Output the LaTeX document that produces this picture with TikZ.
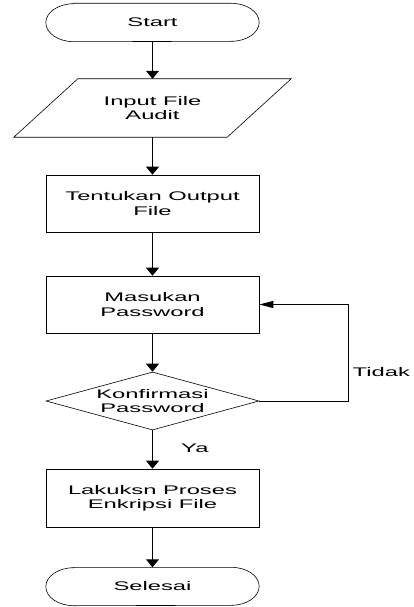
\documentclass[tikz,border=0pt]{standalone}
\usepackage{fontspec}
\setmainfont[FakeStretch=1.9]{Liberation Sans}
\usetikzlibrary{shapes.geometric,arrows.meta}

\tikzset{
	box/.style={inner sep=0pt, align=center, minimum width=213pt,
		font=\fontsize{12.5}{14.3}\selectfont},
	process/.style={box, draw, line width=0.6pt, minimum height=57pt},
	decision/.style={box, diamond, draw, line width=0.6pt, aspect=3.67, minimum height=58pt},
	outline/.style={draw, line width=0.6pt},
	flow/.style={line width=0.9pt, -{Triangle[length=8pt,width=13pt]}},
	flowside/.style={line width=0.9pt, -{Triangle[length=14pt,width=7pt]}},
	answer/.style={anchor=west, inner sep=0pt, font=\fontsize{12.5}{14.3}\selectfont}
}

\newcommand{\terminalshape}[1]{
	\draw[outline] ([xshift=28pt]#1.north west) -- ([xshift=-28pt]#1.north east)
		arc[start angle=90, end angle=-90, x radius=28pt, y radius=19pt]
		-- ([xshift=28pt]#1.south west)
		arc[start angle=270, end angle=90, x radius=28pt, y radius=19pt] -- cycle;
}
\newcommand{\inputshape}[1]{
	\draw[outline] ([xshift=32pt]#1.north west) -- ([xshift=32pt]#1.north east)
		-- ([xshift=-32pt]#1.south east) -- ([xshift=-32pt]#1.south west) -- cycle;
}

\begin{document}
\begin{tikzpicture}[x=1pt,y=1pt]
	\useasboundingbox (0,0) rectangle (413,-607);
	\pgfmathsetmacro{\xMid}{152.5};
	\node[box, minimum height=38pt] (start) at (\xMid,-22.5) {Start};
	\node[box, minimum height=58pt] (input) at (\xMid,-108) {Input File\\Audit};
	\node[process] (tentukan) at (\xMid,-203.5) {Tentukan Output\\File};
	\node[process] (masukan) at (\xMid,-304.5) {Masukan\\Password};
	\node[decision] (konfirmasi) at (\xMid,-401) {Konfirmasi\\Password};
	\node[process, minimum height=58pt] (enkripsi) at (\xMid,-498) {Lakuksn Proses\\Enkripsi File};
	\node[box, minimum height=38pt] (selesai) at (\xMid,-586.5) {Selesai};
	\terminalshape{start}
	\terminalshape{selesai}
	\inputshape{input}
	\foreach \from/\to in {start/input, input/tentukan, tentukan/masukan,
		masukan/konfirmasi, konfirmasi/enkripsi, enkripsi/selesai}
		\draw[flow] (\from) -- (\to);
	\coordinate (tidakline) at (348,-401);
	\draw[flowside] (konfirmasi.east) -- (tidakline) |- (masukan.east);
	\node[answer] (tidak) at (352.5,-372) {Tidak};
	\node[answer] (ya) at (181,-448.5) {Ya};
\end{tikzpicture}
\end{document}
